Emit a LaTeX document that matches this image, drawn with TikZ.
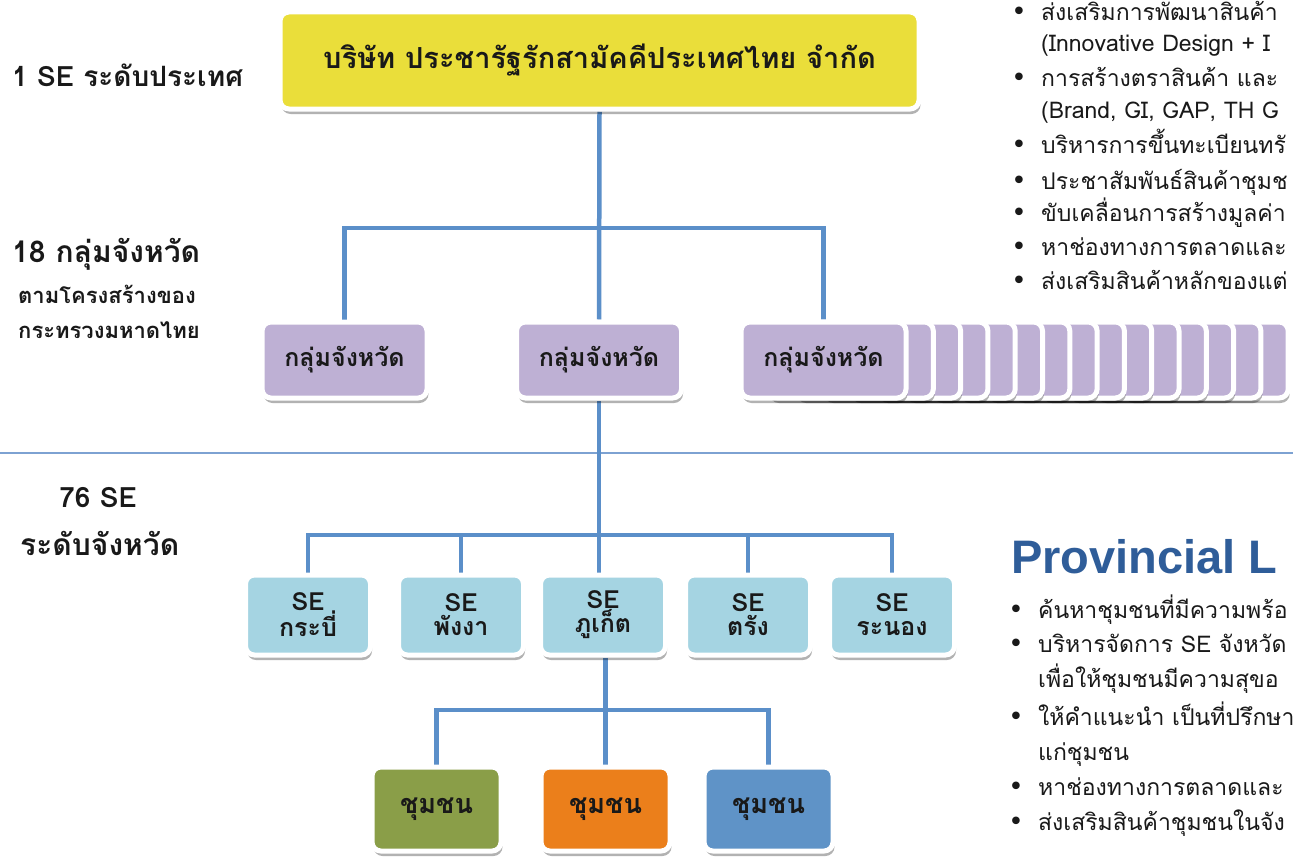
\documentclass[tikz,border=0pt]{standalone}
\usepackage{fontspec}
\setmainfont{Loma}[Script=Thai]
\newfontfamily\thai{Loma}[Script=Thai]
\newfontfamily\bul{DejaVu Sans}
\newfontfamily\lat{Liberation Sans}
\usetikzlibrary{shadows}
\pgfdeclarelayer{bg}
\pgfsetlayers{bg,main}
\definecolor{ybox}{RGB}{234,222,58}
\definecolor{pbox}{RGB}{190,176,212}
\definecolor{sebox}{RGB}{165,212,226}
\definecolor{gbox}{RGB}{138,158,72}
\definecolor{obox}{RGB}{235,127,27}
\definecolor{bbox}{RGB}{95,147,199}
\definecolor{linec}{RGB}{91,143,201}
\definecolor{sepc}{RGB}{125,162,210}
\definecolor{headc}{RGB}{47,93,153}
\definecolor{txtc}{RGB}{25,25,25}
\newcommand{\fs}[1]{\fontsize{#1}{#1}\selectfont}
\begin{document}
\begin{tikzpicture}[x=1pt,y=-1pt,
  box/.style={rounded corners=9pt, draw=white, line width=5pt,
    drop shadow={opacity=0.3, shadow xshift=1.5pt, shadow yshift=-5pt, fill=black},
    text=txtc, align=center, inner sep=0pt, font=\thai\bfseries\fs{25}},
  pstyle/.style={box, fill=pbox, minimum width=165pt, minimum height=76pt},
  sestyle/.style={box, fill=sebox, minimum width=125pt, minimum height=80pt, font=\thai\bfseries\fs{25}, align=center},
  cstyle/.style={box, minimum width=129pt, minimum height=84pt, font=\thai\bfseries\fs{27}},
  conn/.style={draw=linec, line width=4.5pt},
  lbl/.style={anchor=base west, inner sep=0pt, text=txtc, font=\thai\bfseries\fs{28}},
  sublbl/.style={lbl, font=\thai\bfseries\fs{22}},
  rtxt/.style={anchor=base west, inner sep=0pt, text=txtc, font=\thai\fs{23}},
  bullet/.style={anchor=base, inner sep=0pt, text=txtc, font=\bul\fs{26}}
]
\useasboundingbox (0,0) rectangle (1293,859);
\begin{scope}
\clip (0,0) rectangle (1293,859);

% top box
\node[box, fill=ybox, minimum width=639pt, minimum height=97pt, font=\thai\bfseries\fs{29}] (top) at (599.5,60.5) {บริษัท ประชารัฐรักสามัคคีประเทศไทย จำกัด};

% stacked province groups
\foreach \i in {14,13,...,1} {
  \node[pstyle] (g3s\i) at ({823.5+27.3*\i},360) {};
}
\node[pstyle] (g1) at (344.5,360) {กลุ่มจังหวัด};
\node[pstyle] (g2) at (599,360) {กลุ่มจังหวัด};
\node[pstyle] (g3) at (823.5,360) {กลุ่มจังหวัด};

% SE boxes
\node[sestyle] (se1) at (308,615) {SE\\[-1pt]กระบี่};
\node[sestyle] (se2) at (461,615) {SE\\[-1pt]พังงา};
\node[sestyle] (se3) at (603,615) {SE\\[-1pt]ภูเก็ต};
\node[sestyle] (se4) at (748,615) {SE\\[-1pt]ตรัง};
\node[sestyle] (se5) at (892,615) {SE\\[-1pt]ระนอง};

% community boxes
\node[cstyle, fill=gbox] (c1) at (436.5,809) {ชุมชน};
\node[cstyle, fill=obox] (c2) at (605.5,809) {ชุมชน};
\node[cstyle, fill=bbox] (c3) at (768.5,809) {ชุมชน};

\coordinate (b1) at (0,228);
\coordinate (b2) at (0,535);
\coordinate (b3) at (0,710);

\begin{pgfonlayer}{bg}
\fill[white] (0,0) rectangle (1293,859);
\draw[draw=sepc, line width=2pt] (0,453) -- (1293,453);
\draw[conn] (top.south) -- (g2.north);
\draw[conn] (g1.north) -- (g1.north |- b1) -- (g3.north |- b1) -- (g3.north);
\draw[conn] (g2.south) -- (g2.south |- se3.north);
\draw[conn] (se1.north) -- (se1.north |- b2) -- (se5.north |- b2) -- (se5.north);
\draw[conn] (se2.north) -- (se2.north |- b2);
\draw[conn] (se4.north) -- (se4.north |- b2);
\draw[conn] (c2.north |- se3.south) -- (c2.north);
\draw[conn] (c1.north) -- (c1.north |- b3) -- (c3.north |- b3) -- (c3.north);
\end{pgfonlayer}

% left labels
\node[lbl] (l1) at (12,87) {1 SE ระดับประเทศ};
\node[lbl, font=\thai\bfseries\fs{30}] (l2) at (12,262) {18 กลุ่มจังหวัด};
\node[sublbl] (l3) at (18,303) {ตามโครงสร้างของ};
\node[sublbl] (l4) at (18,338) {กระทรวงมหาดไทย};
\node[lbl, anchor=base] (l5) at (98,507) {76 SE};
\node[lbl, font=\thai\bfseries\fs{30}] (l6) at (20,555) {ระดับจังหวัด};

% top right list
\node[bullet] (tb1) at (1019,21) {•};
\node[rtxt] (t1) at (1041,21) {ส่งเสริมการพัฒนาสินค้า};
\node[rtxt] (t2) at (1041,52) {(Innovative Design + I};
\node[bullet] (tb3) at (1019,86) {•};
\node[rtxt] (t3) at (1041,86) {การสร้างตราสินค้า และ};
\node[rtxt] (t4) at (1041,118) {(Brand, GI, GAP, TH G};
\node[bullet] (tb5) at (1019,153) {•};
\node[rtxt] (t5) at (1041,153) {บริหารการขึ้นทะเบียนทรั};
\node[bullet] (tb6) at (1019,189) {•};
\node[rtxt] (t6) at (1041,189) {ประชาสัมพันธ์สินค้าชุมช};
\node[bullet] (tb7) at (1019,221) {•};
\node[rtxt] (t7) at (1041,221) {ขับเคลื่อนการสร้างมูลค่า};
\node[bullet] (tb8) at (1019,255) {•};
\node[rtxt] (t8) at (1041,255) {หาช่องทางการตลาดและ};
\node[bullet] (tb9) at (1019,289) {•};
\node[rtxt] (t9) at (1041,289) {ส่งเสริมสินค้าหลักของแต่};

% bottom right
\node[anchor=base west, inner sep=0pt, text=headc, font=\lat\bfseries\fs{47}] (prov) at (1011,573) {Provincial L};
\node[bullet] (bb1) at (1016,618) {•};
\node[rtxt] (r1) at (1038,618) {ค้นหาชุมชนที่มีความพร้อ};
\node[bullet] (bb2) at (1016,652) {•};
\node[rtxt] (r2) at (1038,652) {บริหารจัดการ SE จังหวัด};
\node[rtxt] (r3) at (1038,687) {เพื่อให้ชุมชนมีความสุขอ};
\node[bullet] (bb4) at (1016,725) {•};
\node[rtxt] (r4) at (1038,725) {ให้คำแนะนำ เป็นที่ปรึกษา};
\node[rtxt] (r5) at (1038,760) {แก่ชุมชน};
\node[bullet] (bb6) at (1016,795) {•};
\node[rtxt] (r6) at (1038,795) {หาช่องทางการตลาดและ};
\node[bullet] (bb7) at (1016,830) {•};
\node[rtxt] (r7) at (1038,830) {ส่งเสริมสินค้าชุมชนในจัง};
\end{scope}
\end{tikzpicture}
\end{document}
